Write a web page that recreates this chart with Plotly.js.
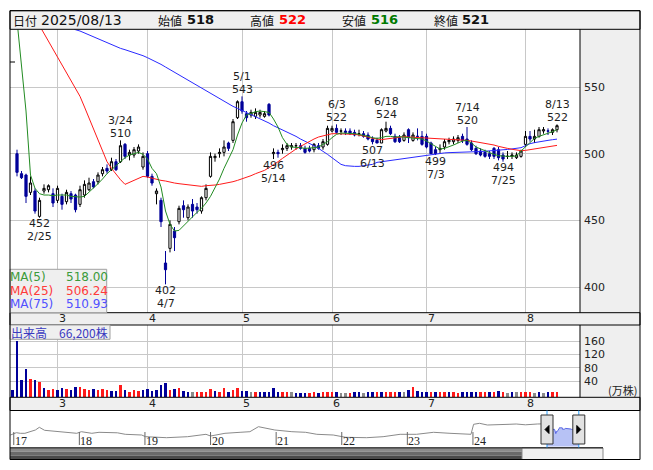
<!DOCTYPE html>
<html><head><meta charset="utf-8">
<script src="https://cdn.plot.ly/plotly-3.0.1.min.js"></script>
<style>html,body{margin:0;padding:0;background:#fff;}#chart{width:653px;height:470px;}</style>
</head><body><div id="chart"></div>
<script>
// ---------------- DATA ----------------
const dates = [
"2025-02-17","2025-02-18","2025-02-19","2025-02-20","2025-02-21","2025-02-25","2025-02-26","2025-02-27","2025-02-28",
"2025-03-03","2025-03-04","2025-03-05","2025-03-06","2025-03-07","2025-03-10","2025-03-11","2025-03-12","2025-03-13","2025-03-14",
"2025-03-17","2025-03-18","2025-03-19","2025-03-21","2025-03-24","2025-03-25","2025-03-26","2025-03-27","2025-03-28","2025-03-31",
"2025-04-01","2025-04-02","2025-04-03","2025-04-04","2025-04-07","2025-04-08","2025-04-09","2025-04-10","2025-04-11","2025-04-14",
"2025-04-15","2025-04-16","2025-04-17","2025-04-18","2025-04-21","2025-04-22","2025-04-23","2025-04-24","2025-04-25","2025-04-28","2025-04-30",
"2025-05-01","2025-05-02","2025-05-07","2025-05-08","2025-05-09","2025-05-12","2025-05-13","2025-05-14","2025-05-15","2025-05-16",
"2025-05-19","2025-05-20","2025-05-21","2025-05-22","2025-05-23","2025-05-26","2025-05-27","2025-05-28","2025-05-29","2025-05-30",
"2025-06-02","2025-06-03","2025-06-04","2025-06-05","2025-06-06","2025-06-09","2025-06-10","2025-06-11","2025-06-12","2025-06-13",
"2025-06-16","2025-06-17","2025-06-18","2025-06-19","2025-06-20","2025-06-23","2025-06-24","2025-06-25","2025-06-26","2025-06-27","2025-06-30",
"2025-07-01","2025-07-02","2025-07-03","2025-07-04","2025-07-07","2025-07-08","2025-07-09","2025-07-10","2025-07-11","2025-07-14",
"2025-07-15","2025-07-16","2025-07-17","2025-07-18","2025-07-22","2025-07-23","2025-07-24","2025-07-25","2025-07-28","2025-07-29","2025-07-30","2025-07-31",
"2025-08-01","2025-08-04","2025-08-05","2025-08-06","2025-08-07","2025-08-08","2025-08-12","2025-08-13"];

const open = [
500,485,484,471,472,453,472,473,470,465, 468,464,470,469,462,469,473,479,479,485,
489,488,494,494,507,499,499,502,490,500, 483,470,465,418,429,442,449,461,452,462,
460,457,467,483,497,500,501,508,510,527, 539,530,529,528,529,528,537,500,501,503,
504,505,506,506,504,504,503,506,505,507, 517,519,517,517,517,516,515,515,514,511,
510,508,517,519,513,512,510,518,510,513, 513,513,508,503,503,505,509,509,510,513,
511,508,504,502,501,500,504,503,499,498, 498,497,498,507,513,511,513,517,517,516, 518];
const high = [
503,487,485,483,474,467,477,477,474,476, 470,473,472,470,476,480,482,481,486,490,
492,497,496,510,508,503,505,507,501,502, 485,474,467,427,450,445,461,465,462,466,
463,468,477,501,500,504,510,509,526,540, 543,532,533,534,533,532,538,504,503,507,
508,508,508,508,506,506,508,508,511,521, 521,522,519,519,519,518,518,517,516,513,
512,519,524,521,515,514,516,519,516,519, 517,515,509,505,507,511,512,513,514,515,
520,510,506,504,503,502,505,505,501,502, 501,501,503,517,517,518,520,520,519,519, 522];
const low = [
483,481,463,469,455,452,470,471,460,463, 458,462,463,456,460,467,472,474,477,483,
485,487,487,493,496,495,497,500,488,482, 476,462,445,402,426,427,447,452,450,452,
455,455,465,482,494,497,498,502,508,526, 530,524,527,526,527,527,528,496,497,500,
502,503,503,503,500,501,501,503,503,506, 516,515,514,514,514,513,513,512,510,507,
508,508,516,514,508,508,509,508,509,510, 506,504,500,499,500,503,507,507,508,508,
506,502,499,498,497,496,496,495,494,496, 496,496,497,505,509,508,512,515,514,514, 516];
const close = [
486,482,468,478,457,465,474,476,463,474, 462,471,466,458,473,477,478,475,484,488,
487,494,488,506,498,501,503,505,498,483, 478,472,449,413,447,437,459,458,460,457,
458,467,474,498,498,501,505,504,524,539, 532,527,531,531,531,530,529,501,500,504,
506,506,506,504,501,502,507,504,509,519, 519,516,517,516,515,514,515,513,511,509,
508,518,519,515,509,509,514,512,514,513, 507,505,500,500,504,509,510,511,512,510,
507,503,500,499,498,498,498,497,496,498, 499,499,502,513,511,513,518,518,517,518, 521];

// volume in 万株 (10,000 shares); the bar for the previous session (2025-02-14) is also visible
const prevDayVolume = 15;
const prevDayDir = "d";
const volume = [
162,45,78,48,45,37,19,15,18,15, 21,18,15,24,24,18,15,18,15,18,
15,12,12,30,15,9,15,12,15,18, 12,15,30,36,15,18,21,12,7,9,
7,7,9,18,12,9,21,9,15,21, 12,12,9,9,7,9,9,21,9,7,
7,7,4,4,4,4,7,4,7,7, 7,7,4,4,4,7,7,4,7,7,
7,7,7,7,7,7,7,15,22,10, 9,9,7,7,9,7,7,7,4,7,
7,7,7,7,9,7,9,10,7,4, 7,7,9,7,7,4,7,4,7,7, 6.62];
// u = up (red), d = down (navy), f = unchanged (gray)
const volumeDir = [
"dddududuud", "dudduuuduu",
"uddudu uudd".replace(/ /g,""), "ddddududdf",
"uuuuduuduu", "ddfudddddu",
"ufdddu udu u".replace(/ /g,""), "udffuddfdd",
"uduuudfdud", "ddudu udu ud".replace(/ /g,""),
"dddu udu duf".replace(/ /g,""), "dfuuufdfdu", "u"].join("");

const ma5 = [
600,568,532,484,474,470,469,469,468.5,469, 469,469,468,467.5,467.5,468,471,474,477.5,481,
485,488,491,494,497,499,500,501,499.5,496, 489,485,475,457,447,442,442.5,446,449,453,
456,459,463,468,474.5,481,489,496.5,503,514, 523,529,530.5,531.5,532,531.5,531,526,520,512,
507,505,505,504.5,504,504,504.5,505,507,509, 512,514.5,515.5,515.5,515,515,514.5,514,513,512,
511.5,512,513,513,512.5,512.8,512.5,512.3,512,511.5, 511,509.5,507.5,505,503.5,504,505,506.5,508,509.5,
510,508,505,503.5,502.5,500.5,499.5,498.5,498,498, 498,498.3,502,505,508,511.5,513,514,515.5,516.5, 518.00];
const ma25 = [
null,null,null,null,602,596,590,585,579,573, 567,561,555,549,543,535,527,518.5,510,502,
494,489,484.5,480.5,477,478.5,480.5,482,483,482.5, 481.5,480.5,480,479.5,478.5,478,477.5,477,476.5,476,
475.5,475.5,476,476,476.5,477,477.5,478.5,479,480, 481,482.5,483.5,485,486,487.5,489.5,491.5,494,496.5,
499,501.5,503.5,505.5,507.5,509,511,512.5,513.5,514.5, 515,515,515,515,514.8,514.5,514,513.5,512.5,511.5,
510.8,510.5,511,511.5,512,512.5,512.8,512.5,512.3,512.3, 512,512,511.8,511.5,511.5,511.2,511,511,510.8,510.5,
510,509.5,509,508.5,508,507,506.5,505.5,505,504, 503.3,502.8,502.3,502.5,503,504,504.5,505,505.5,505.8, 506.24];
const ma75 = [
null,null,null,null,null,null,null,null,null,null, null,null,595,593,592,590.5,589,587.5,586.5,585,
583.5,582,580.5,579,578,577,576,575,573.5,572, 570.5,569,567,565,563,561,559,557,555.5,553.5,
551.5,549.5,547.5,545.5,543.5,541.5,539.5,537.5,535.5,534, 532.5,531,529.5,528,526.5,525,523,521,519.5,518,
516.5,515,513,511,509.5,508,506,504,502,499.5, 497,494.5,492,491,490.5,490.5,490.5,491,491.5,492,
493.5,494,494.5,495,495.5,496,496.5,497,497.5,498, 498.5,499,499.5,500,500.3,500.6,500.8,501,501.2,501.3,
501.4,501.5,501.5,501.6,501.8,502,502.3,502.5,502.8,503.2, 503.6,504,504.5,506,507.5,508.3,509,509.5,510,510.5, 510.93];

// swing high / low labels
const markDates = ["2025-02-25","2025-03-24","2025-04-07","2025-05-01","2025-05-14","2025-06-03",
                   "2025-06-13","2025-06-18","2025-07-03","2025-07-14","2025-07-25","2025-08-13"];
const markKinds = ["low","high","low","high","low","high","low","high","low","high","low","high"];

// long-term overview (navigator) line, fractional years / price
const navYears = [2016.95,2017.04,2017.10,2017.17,2017.33,2017.39,2017.47,2017.55,2017.70,2017.81,2017.96,2018.03,2018.19,2018.30,2018.44,2018.58,2018.70,2018.95,
  2019.01,2019.33,2019.65,2019.90,2019.93,2020.00,2020.22,2020.45,2020.60,2020.73,2020.86,2020.98,2021.24,2021.45,2021.62,2021.87,
  2022.06,2022.38,2022.63,2022.89,2023.14,2023.40,2023.65,2023.97,2024.01,2024.10,2024.22,2024.41,2024.55,2024.66,2024.80,2024.98,2025.10];
const navValues = [386,432,420,420,486,540,480,472,456,440,420,452,420,440,440,430,400,386,
  352,332,352,392,400,366,420,440,452,552,520,486,452,440,400,386,
  340,332,352,400,400,440,420,400,600,620,586,586,600,606,590,606,610];
const navTickYears = [2017,2018,2019,2020,2021,2022,2023,2024];

// ---------------- HELPERS ----------------
const W = 653, H = 470;
const px = x => x / W, py = y => 1 - y / H;
const idx = dates.map((_, i) => i);
const FONT = "DejaVu Sans, Verdana, Noto Sans CJK JP, sans-serif";
const JFONT = "Noto Sans CJK JP, DejaVu Sans, sans-serif";
const yearFrac = s => { const d = new Date(s + "T00:00:00Z"); const y = d.getUTCFullYear();
  const a = Date.UTC(y,0,1), b = Date.UTC(y+1,0,1); return y + (d - a) / (b - a); };
const md = s => { const p = s.split("-"); return (+p[1]) + "/" + (+p[2]); };

const monthIdx = [], monthLbl = [];
dates.forEach((d, i) => { if (i > 0 && d.slice(5,7) !== dates[i-1].slice(5,7)) { monthIdx.push(i); monthLbl.push(String(+d.slice(5,7))); } });

const dirColor = { u: "#ff1a1a", d: "#000099", f: "#8c8c8c" };
const volX = [-1].concat(idx);
const volY = [prevDayVolume].concat(volume);
const volC = [prevDayDir].concat(volumeDir.split("")).map(c => dirColor[c] || "#8c8c8c");

const last = dates.length - 1;
const xL = -1.556, xR = 125.11;           // index range shown
const yearAt = x => 2017 + (x - 13.75) / 65.6;
const navRange = [yearAt(10), yearAt(640)];
const selStart = yearFrac(dates[0]), selEnd = yearFrac(dates[last]);

// ---------------- TRACES ----------------
const traces = [
  { type: "candlestick", x: idx, open, high, low, close, xaxis: "x", yaxis: "y",
    increasing: { line: { color: "#000000", width: 1 }, fillcolor: "#ffffff" },
    decreasing: { line: { color: "#000099", width: 1 }, fillcolor: "#000099" },
    whiskerwidth: 0, hoverinfo: "skip" },
  { type: "scatter", mode: "lines", x: idx, y: ma75, line: { color: "#2a2aff", width: 1 }, xaxis: "x", yaxis: "y", hoverinfo: "skip" },
  { type: "scatter", mode: "lines", x: idx, y: ma25, line: { color: "#ff1a1a", width: 1 }, xaxis: "x", yaxis: "y", hoverinfo: "skip" },
  { type: "scatter", mode: "lines", x: idx, y: ma5, line: { color: "#228b22", width: 1 }, xaxis: "x", yaxis: "y", hoverinfo: "skip" },
  { type: "bar", x: volX, y: volY.map(v => v + 8.4), base: -8.4, width: 0.5, marker: { color: volC, line: { width: 0 } },
    xaxis: "x2", yaxis: "y2", hoverinfo: "skip" },
  { type: "scatter", mode: "lines", x: navYears, y: navValues, line: { color: "#8a8a8a", width: 1 }, xaxis: "x3", yaxis: "y3", hoverinfo: "skip" },
  { type: "scatter", mode: "lines", x: dates.map(yearFrac), y: close, fill: "tozeroy", fillcolor: "#b7c2f5",
    line: { color: "#5a68e6", width: 1 }, xaxis: "x3", yaxis: "y3", hoverinfo: "skip" }
];

// ---------------- SHAPES ----------------
const rect = (x0, y0, x1, y1, fill, lineColor, layer) => ({ type: "rect", xref: "paper", yref: "paper",
  x0: px(x0), x1: px(x1), y0: py(y1), y1: py(y0), fillcolor: fill || "rgba(0,0,0,0)",
  line: { color: lineColor || "rgba(0,0,0,0)", width: lineColor ? 1 : 0 }, layer: layer || "above" });
const hline = (x0, x1, y, color) => ({ type: "line", xref: "paper", yref: "paper", x0: px(x0), x1: px(x1), y0: py(y), y1: py(y), line: { color, width: 1 } });
const vline = (x, y0, y1, color) => ({ type: "line", xref: "paper", yref: "paper", x0: px(x), x1: px(x), y0: py(y0), y1: py(y1), line: { color, width: 1 } });

const shapes = [
  rect(580, 29.3, 640, 312.7, "#efefef", null, "below"),
  rect(580, 325, 640, 397.3, "#efefef", null, "below"),
  rect(10, 10.7, 640, 29.3, "#efefef", "#000"),
  rect(10, 312.7, 640, 325, "#efefef", "#000"),
  rect(10, 397.3, 640, 410.5, "#efefef", "#000"),
  vline(580, 29.3, 312.7, "#000"), vline(580, 325, 397.3, "#000"),
  hline(10, 15, 62, "#000"),
  // MA legend box and volume legend box
  rect(10, 269.3, 106.7, 312.7, "#efefef", "#a0a0a0"),
  rect(10, 325, 110, 339.3, "#efefef", "#a0a0a0"),
  // scrollbar
  rect(10, 448, 522, 451.5, "#8c8c8c", null),
  rect(10, 451.5, 522, 455.5, "#6a6a6a", null),
  rect(10, 455.5, 522, 459.5, "#4a4a4a", null),
  rect(522, 448, 603, 459.5, "#f0f0f0", "#8a8a8a"),
  hline(10, 603, 447.8, "#000"),
  rect(10, 10.7, 640, 459.5, null, "#000")
];
// navigator year ticks
navTickYears.forEach(y => shapes.push({ type: "line", xref: "x3", yref: "paper", x0: y, x1: y, y0: py(445), y1: py(432), line: { color: "#666", width: 1 } }));
// selection edges and handles
[selStart, selEnd].forEach((s, k) => {
  shapes.push({ type: "line", xref: "x3", yref: "paper", x0: s, x1: s, y0: py(447.5), y1: py(410.5), line: { color: "#2aa0ff", width: 1 } });
  shapes.push({ type: "rect", xref: "x3", xsizemode: "pixel", xanchor: s, x0: -6, x1: 6, yref: "paper", y0: py(444), y1: py(415),
    fillcolor: "#e2e2e2", line: { color: "#333", width: 1 } });
  shapes.push({ type: "path", xref: "x3", xsizemode: "pixel", xanchor: s, yref: "paper", ysizemode: "pixel", yanchor: py(429.5),
    path: k === 0 ? "M 2 -4 L -2 0 L 2 4 Z" : "M -2 -4 L 2 0 L -2 4 Z", fillcolor: "#000", line: { color: "#000", width: 1 } });
});

// ---------------- ANNOTATIONS ----------------
const ann = [];
const A = o => ann.push(Object.assign({ showarrow: false, font: { family: FONT, size: 12, color: "#222" } }, o));

// swing marks (two tight lines: value next to the candle, date beyond it)
const markFont = { family: FONT, size: 11, color: "#1e1e1e" };
markDates.forEach((d, k) => {
  const i = dates.indexOf(d), isHigh = markKinds[k] === "high";
  const v = isHigh ? high[i] : low[i];
  A({ xref: "x", yref: "y", x: i, y: v, text: String(v), yanchor: "middle", yshift: isHigh ? 7 : -6, height: 11, borderpad: 0, font: markFont });
  A({ xref: "x", yref: "y", x: i, y: v, text: md(d), yanchor: "middle", yshift: isHigh ? 20 : -19, height: 11, borderpad: 0, font: markFont });
});
// month labels in both bands
monthIdx.forEach((m, k) => {
  A({ xref: "x", yref: "paper", x: m, y: py(318.7), text: monthLbl[k], xanchor: "left", yanchor: "middle", xshift: -1, font: { family: FONT, size: 11, color: "#222" } });
  A({ xref: "x", yref: "paper", x: m, y: py(403.7), text: monthLbl[k], xanchor: "left", yanchor: "middle", xshift: -1, font: { family: FONT, size: 11, color: "#222" } });
});
// navigator year labels
navTickYears.forEach(y => A({ xref: "x3", yref: "paper", x: y, y: py(440.5), text: String(y).slice(2), xanchor: "left", yanchor: "middle",
  xshift: -1, font: { family: "Liberation Serif, serif", size: 12, color: "#222" } }));
// header
const hdr = [
  ["日付", 13, dates[last].replace(/-/g, "/"), 41, "#111", false],
  ["始値", 158, String(open[last]), 187, "#111", true],
  ["高値", 250, String(high[last]), 279, "#ff0000", true],
  ["安値", 342, String(low[last]), 371, "#007a00", true],
  ["終値", 434, String(close[last]), 462, "#111", true]
];
hdr.forEach(h => {
  A({ xref: "paper", yref: "paper", x: px(h[1]), y: py(20.3), text: h[0], xanchor: "left", yanchor: "middle", xshift: -2, font: { family: JFONT, size: 12, color: "#111" } });
  A({ xref: "paper", yref: "paper", x: px(h[3]), y: py(19.8), text: h[5] ? "<b>" + h[2] + "</b>" : h[2], xanchor: "left", yanchor: "middle", xshift: -2,
      font: { family: FONT, size: h[5] ? 13 : 14, color: h[4] } });
});
// MA legend
const maRows = [["MA(5)", ma5, "#3a9a3a", 276.2], ["MA(25)", ma25, "#ff3a3a", 290.2], ["MA(75)", ma75, "#5050ff", 303.8]];
maRows.forEach(r => {
  A({ xref: "paper", yref: "paper", x: px(11), y: py(r[3]), text: r[0], xanchor: "left", yanchor: "middle", xshift: -2, height: 13, borderpad: 0, font: { family: FONT, size: 12, color: r[2] } });
  A({ xref: "paper", yref: "paper", x: px(106.5), y: py(r[3]), text: r[1][r[1].length - 1].toFixed(2), xanchor: "right", yanchor: "middle", xshift: 2, height: 13, borderpad: 0, font: { family: FONT, size: 12, color: r[2] } });
});
// volume legend
A({ xref: "paper", yref: "paper", x: px(11), y: py(332.3), xanchor: "left", yanchor: "middle", xshift: -2,
    text: "出来高　" + Math.round(volume[last] * 10000).toLocaleString("en-US") + "株", font: { family: JFONT, size: 12, color: "#3a3ac0" } });
A({ xref: "paper", yref: "paper", x: px(639), y: py(390), xanchor: "right", yanchor: "middle", text: "(万株)", font: { family: JFONT, size: 11, color: "#222" } });

// ---------------- LAYOUT ----------------
const tickFont = { family: FONT, size: 11, color: "#222" };
const layout = {
  width: W, height: H, margin: { l: 0, r: 0, t: 0, b: 0 }, paper_bgcolor: "#ffffff", plot_bgcolor: "#ffffff",
  showlegend: false, dragmode: false,
  xaxis: { domain: [px(10), px(580)], range: [xL, xR], tickvals: monthIdx, showticklabels: false, ticks: "",
    showgrid: true, gridcolor: "#c8c8c8", gridwidth: 1, zeroline: false, showline: false, rangeslider: { visible: false }, fixedrange: true, anchor: "y" },
  yaxis: { domain: [py(312.7), py(29.3)], range: [380.75, 593.3], side: "right", tickvals: [400, 450, 500, 550], ticks: "",
    ticklabelstandoff: 3, tickfont: tickFont, showgrid: true, gridcolor: "#c8c8c8", zeroline: false, showline: false, fixedrange: true, anchor: "x" },
  xaxis2: { domain: [px(10), px(580)], range: [xL, xR], tickvals: monthIdx, showticklabels: false, ticks: "",
    showgrid: true, gridcolor: "#c8c8c8", zeroline: false, showline: false, fixedrange: true, anchor: "y2" },
  yaxis2: { domain: [py(397.3), py(325)], range: [-8.4, 208.5], side: "right", tickvals: [40, 80, 120, 160], ticks: "",
    ticklabelstandoff: 3, tickfont: tickFont, showgrid: true, gridcolor: "#c8c8c8", zeroline: false, showline: false, fixedrange: true, anchor: "x2" },
  xaxis3: { domain: [px(10), px(640)], range: navRange, showticklabels: false, ticks: "", showgrid: false, zeroline: false, showline: false, fixedrange: true, anchor: "y3" },
  yaxis3: { domain: [py(446.5), py(410.5)], range: [156, 876], visible: false, fixedrange: true, anchor: "x3" },
  shapes, annotations: ann, bargap: 0
};
Plotly.newPlot("chart", traces, layout, { staticPlot: true, displayModeBar: false });
</script></body></html>
